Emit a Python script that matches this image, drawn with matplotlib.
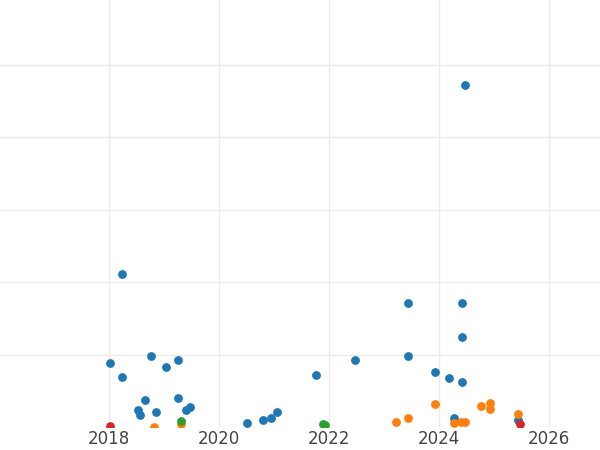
import matplotlib
matplotlib.use("Agg")
import matplotlib.pyplot as plt

blue_x = [2018.02,2018.24,2018.24,2018.53,2018.56,2018.65,2018.76,2018.85,2019.04,2019.25,2019.25,2019.4,2019.47,
          2020.51,2020.8,2020.95,2021.05,2021.76,2022.47,2023.44,2023.44,2023.93,2024.18,2024.27,2024.42,2024.42,2024.42,2024.47,2025.44]
blue_y = [0.88,2.11,0.69,0.23,0.17,0.37,0.98,0.21,0.83,0.92,0.40,0.23,0.28,
          0.06,0.10,0.12,0.21,0.72,0.92,1.71,0.98,0.76,0.68,0.12,1.71,1.24,0.62,4.72,0.10]
orange_x = [2018.82,2019.31,2023.22,2023.44,2023.93,2024.27,2024.4,2024.47,2024.76,2024.93,2024.93,2025.44]
orange_y = [0.0,0.04,0.07,0.12,0.32,0.06,0.07,0.07,0.29,0.33,0.25,0.18]
green_x = [2019.31,2021.89,2021.93]
green_y = [0.08,0.04,0.03]
red_x = [2018.02,2025.47]
red_y = [0.01,0.04]

fig = plt.figure(figsize=(6,4.5), dpi=100)
ax = fig.add_axes([0, 23/450, 1, 427/450])
for xs, ys, c in [(blue_x,blue_y,'#1f77b4'),(orange_x,orange_y,'#ff7f0e'),(green_x,green_y,'#2ca02c'),(red_x,red_y,'#d62728')]:
    ax.scatter(xs, ys, s=40, color=c, zorder=3, linewidths=0)
ax.set_xlim(2016.02, 2026.93)
ax.set_ylim(0, 5.89)
ax.set_xticks([2018,2020,2022,2024,2026])
ax.set_yticks([1,2,3,4,5])
ax.set_yticklabels([])
ax.tick_params(length=0, labelsize=12, colors='#444444', pad=2)
ax.grid(True, color='#ebebeb', linewidth=1)
ax.set_axisbelow(True)
for s in ax.spines.values():
    s.set_visible(False)
fig.savefig("out.png", dpi=100)
